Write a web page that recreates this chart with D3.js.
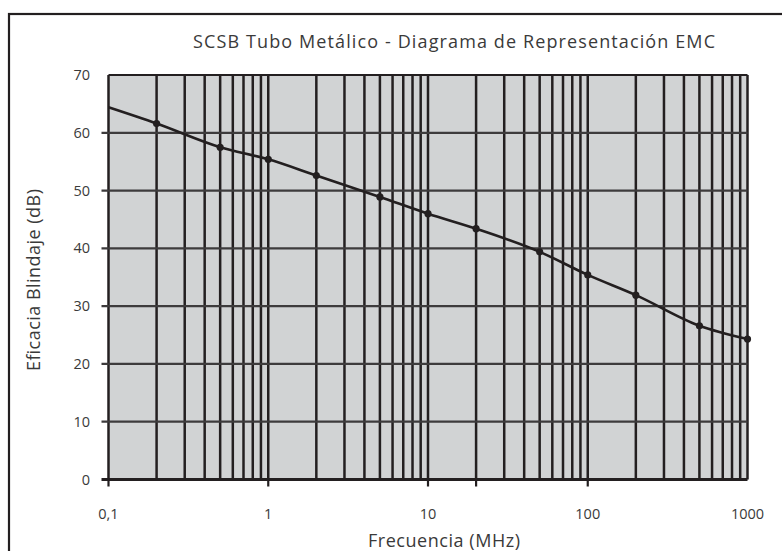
<!DOCTYPE html>
<html>
<head>
<meta charset="utf-8">
<script src="https://cdn.jsdelivr.net/npm/d3@7"></script>
<style>
  body { margin: 0; background: #fff; }
  text { font-family: "Open Sans", "Noto Sans", sans-serif; fill: #3a3a3a; }
</style>
</head>
<body>
<div id="chart"></div>
<script>
// data
var freqs = [0.1, 0.2, 0.5, 1, 2, 5, 10, 20, 50, 100, 200, 500, 1000];
var shielding = [64.4, 61.6, 57.5, 55.4, 52.6, 48.9, 46.0, 43.4, 39.4, 35.4, 31.9, 26.6, 24.3];
var markerFreqs = [0.2, 0.5, 1, 2, 5, 10, 20, 50, 100, 200, 500, 1000];
var xTickValues = [0.1, 1, 10, 100, 1000];
var xTickLabels = ["0,1", "1", "10", "100", "1000"];
var xTickMarks = [0.1, 1, 10, 20, 100];
var yTickValues = [0, 10, 20, 30, 40, 50, 60, 70];

var W = 782, H = 551;
var pLeft = 108.5, pRight = 747.5, pTop = 75, pBottom = 479.5;
var ink = "#231f20";

var svg = d3
  .select("#chart")
  .append("svg")
  .attr("width", W)
  .attr("height", H);

// outer frame (runs off the right and bottom edge)
svg
  .append("rect")
  .attr("x", 9)
  .attr("y", 14)
  .attr("width", 820)
  .attr("height", 600)
  .attr("fill", "none")
  .attr("stroke", ink)
  .attr("stroke-width", 2.2);

var x = d3.scaleLog().domain([0.1, 1000]).range([pLeft, pRight]);
var y = d3.scaleLinear().domain([0, 70]).range([pBottom, pTop]);

// plot background
svg
  .append("rect")
  .attr("x", pLeft)
  .attr("y", pTop)
  .attr("width", pRight - pLeft)
  .attr("height", pBottom - pTop)
  .attr("fill", "#d1d3d4");

// vertical grid: 1..9 in every decade
var vLines = [];
[0.1, 1, 10, 100].forEach(function (dec) {
  for (var k = 1; k <= 9; k++) vLines.push(dec * k);
});
vLines.push(1000);

svg
  .append("g")
  .selectAll("line")
  .data(vLines)
  .enter()
  .append("line")
  .attr("x1", function (d) { return x(d); })
  .attr("x2", function (d) { return x(d); })
  .attr("y1", pTop)
  .attr("y2", pBottom)
  .attr("stroke", ink)
  .attr("stroke-width", 2.5);

// horizontal grid
svg
  .append("g")
  .selectAll("line")
  .data(yTickValues)
  .enter()
  .append("line")
  .attr("x1", function (d) { return d == 70 ? pLeft : pLeft - 7; })
  .attr("x2", pRight)
  .attr("y1", function (d) { return y(d); })
  .attr("y2", function (d) { return y(d); })
  .attr("stroke", function (d) { return d == 0 || d == 70 ? ink : "#3d3b3c"; })
  .attr("stroke-width", function (d) { return d == 0 ? 3 : 2.2; });

// x tick marks below the axis
svg
  .append("g")
  .selectAll("line")
  .data(xTickMarks)
  .enter()
  .append("line")
  .attr("x1", function (d) { return x(d); })
  .attr("x2", function (d) { return x(d); })
  .attr("y1", pBottom)
  .attr("y2", pBottom + 7)
  .attr("stroke", ink)
  .attr("stroke-width", 2.2);

// y tick labels
svg
  .append("g")
  .selectAll("text")
  .data(yTickValues)
  .enter()
  .append("text")
  .attr("x", 90)
  .attr("y", function (d) { return y(d); })
  .attr("dy", "0.35em")
  .attr("text-anchor", "end")
  .style("font-size", "14.5px")
  .text(function (d) { return d; });

// x tick labels
svg
  .append("g")
  .selectAll("text")
  .data(xTickValues)
  .enter()
  .append("text")
  .attr("x", function (d) { return x(d); })
  .attr("y", 514)
  .attr("dy", "0.35em")
  .attr("text-anchor", "middle")
  .style("font-size", "14.5px")
  .text(function (d, i) { return xTickLabels[i]; });

// curve
var pts = freqs.map(function (f, i) { return { f: f, v: shielding[i] }; });
svg
  .append("path")
  .datum(pts)
  .attr("fill", "none")
  .attr("stroke", ink)
  .attr("stroke-width", 2.6)
  .attr(
    "d",
    d3
      .line()
      .curve(d3.curveMonotoneX)
      .x(function (d) { return x(d.f); })
      .y(function (d) { return y(d.v); })
  );

// markers
svg
  .append("g")
  .selectAll("circle")
  .data(pts.filter(function (d) { return markerFreqs.indexOf(d.f) >= 0; }))
  .enter()
  .append("circle")
  .attr("cx", function (d) { return x(d.f); })
  .attr("cy", function (d) { return y(d.v); })
  .attr("r", 3.6)
  .attr("fill", ink);

// title
svg
  .append("text")
  .attr("x", 454)
  .attr("y", 48)
  .attr("text-anchor", "middle")
  .attr("textLength", 522)
  .attr("lengthAdjust", "spacing")
  .style("font-size", "18px")
  .text("SCSB Tubo Metálico - Diagrama de Representación EMC");

// axis titles
svg
  .append("text")
  .attr("x", 444)
  .attr("y", 547)
  .attr("text-anchor", "middle")
  .attr("textLength", 152)
  .attr("lengthAdjust", "spacing")
  .style("font-size", "18px")
  .text("Frecuencia (MHz)");

svg
  .append("text")
  .attr("transform", "translate(40,280) rotate(-90)")
  .attr("text-anchor", "middle")
  .attr("textLength", 182)
  .attr("lengthAdjust", "spacing")
  .style("font-size", "18px")
  .text("Eficacia Blindaje (dB)");
</script>
</body>
</html>
